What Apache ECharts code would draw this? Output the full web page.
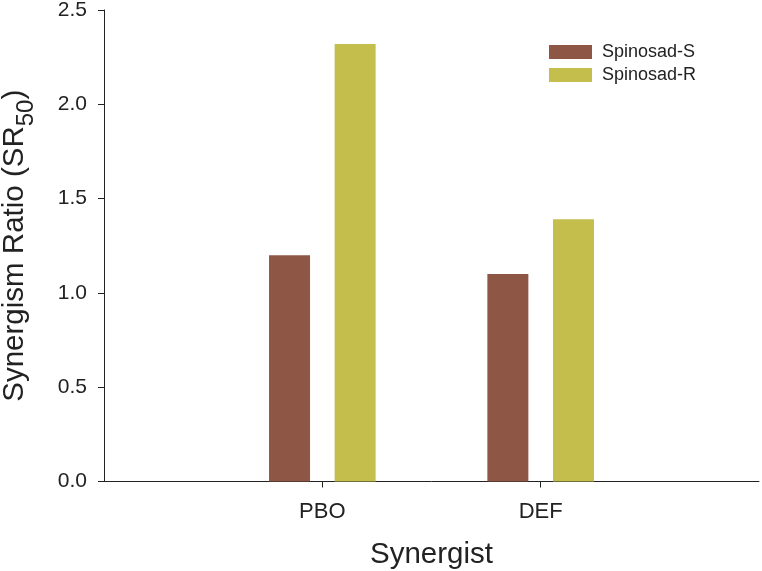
<!DOCTYPE html>
<html>
<head>
<meta charset="utf-8">
<script src="https://cdn.jsdelivr.net/npm/echarts@6/dist/echarts.min.js"></script>
<style>html,body{margin:0;padding:0;background:#fff}#c{width:762px;height:571px}</style>
</head>
<body>
<div id="c"></div>
<script>
var categories = ['PBO', 'DEF'];
var seriesNames = ['Spinosad-S', 'Spinosad-R'];
var spinosadS = [1.20, 1.10];
var spinosadR = [2.32, 1.39];
var yTicks = [0, 0.5, 1.0, 1.5, 2.0, 2.5];

var catPos = categories.map(function (c, i) { return i + 1; });
function pairs(vals) { return vals.map(function (v, i) { return [catPos[i], v]; }); }

var chart = echarts.init(document.getElementById('c'), null, { renderer: 'canvas' });
var font = 'Liberation Sans, Arial, Helvetica, sans-serif';
chart.setOption({
  animation: false,
  backgroundColor: '#fff',
  textStyle: { fontFamily: font },
  grid: { left: 104, right: 3, top: 10, bottom: 89.5, containLabel: false, outerBoundsMode: 'none' },
  legend: {
    left: 549, top: 43, orient: 'vertical', padding: 0,
    itemWidth: 43, itemHeight: 14, itemGap: 5,
    icon: 'rect',
    textStyle: { fontSize: 18, color: '#222', fontFamily: font, padding: [0, 0, 0, 5] },
    data: seriesNames
  },
  xAxis: {
    type: 'value', min: 0, max: 3, interval: 1,
    name: 'Synergist', nameLocation: 'middle', nameGap: 58,
    nameTextStyle: { fontSize: 29.5, color: '#222', fontFamily: font },
    splitLine: { show: false },
    axisLine: { show: true, lineStyle: { color: '#222', width: 1 } },
    axisTick: { show: true, length: 6, inside: false, customValues: catPos, lineStyle: { color: '#222' } },
    axisLabel: {
      fontSize: 22, color: '#222', margin: 19, customValues: catPos,
      formatter: function (v) { return categories[Math.round(v) - 1] || ''; }
    }
  },
  yAxis: {
    type: 'value', min: 0, max: 2.5, interval: 0.5,
    name: '{a|Synergism Ratio (SR}{b|50}{a|)}',
    nameLocation: 'middle', nameGap: 62, nameRotate: 90,
    nameTextStyle: {
      rich: {
        a: { fontSize: 29.5, color: '#222', fontFamily: font, verticalAlign: 'top', lineHeight: 42 },
        b: { fontSize: 24, color: '#222', fontFamily: font, verticalAlign: 'top', padding: [14, 0, 0, 0], lineHeight: 42 }
      }
    },
    splitLine: { show: false },
    axisLine: { show: true, lineStyle: { color: '#222', width: 1 } },
    axisTick: { show: true, length: 6, lineStyle: { color: '#222' } },
    axisLabel: { fontSize: 21, color: '#222', margin: 17, formatter: function (v) { return v.toFixed(1); } }
  },
  series: [
    { name: seriesNames[0], type: 'bar', data: pairs(spinosadS), barWidth: 41, barGap: '60%',
      itemStyle: { color: '#8E5644' } },
    { name: seriesNames[1], type: 'bar', data: pairs(spinosadR), barWidth: 41, barGap: '60%',
      itemStyle: { color: '#C4BE4D' } }
  ]
});
</script>
</body>
</html>
